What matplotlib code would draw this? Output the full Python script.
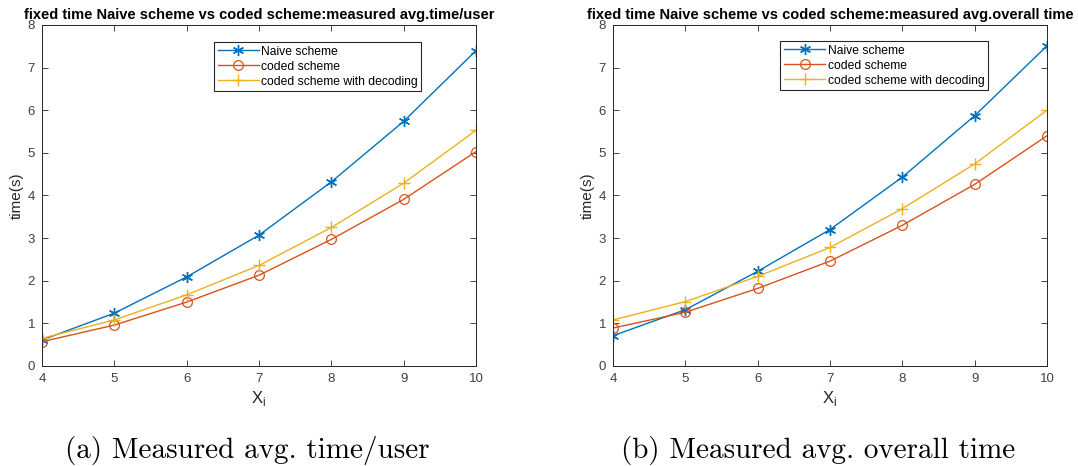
import matplotlib.pyplot as plt

# x values (X_i)
x_vals = [4, 5, 6, 7, 8, 9, 10]

# (a) measured avg. time/user
user_naive    = [0.61, 1.24, 2.09, 3.07, 4.32, 5.74, 7.40]
user_coded    = [0.57, 0.96, 1.50, 2.13, 2.97, 3.91, 5.03]
user_decoding = [0.65, 1.08, 1.67, 2.36, 3.25, 4.29, 5.53]

# (b) measured avg. overall time
overall_naive    = [0.71, 1.32, 2.22, 3.20, 4.43, 5.87, 7.51]
overall_coded    = [0.89, 1.26, 1.82, 2.46, 3.30, 4.26, 5.40]
overall_decoding = [1.08, 1.51, 2.10, 2.78, 3.69, 4.74, 6.00]

series_labels = ['Naive scheme', 'coded scheme', 'coded scheme with decoding']
titles = ['fixed time Naive scheme vs coded scheme:measured avg.time/user',
          'fixed time Naive scheme vs coded scheme:measured avg.overall time']
captions = ['(a) Measured avg. time/user', '(b) Measured avg. overall time']

# MATLAB default colour order
BLUE, RED, YELLOW = '#0072BD', '#D95319', '#EDB120'
AX_COLOR = '#262626'
TICK_COLOR = '#404040'
ASTERISK = (6, 2, 0)

plt.rcParams['font.family'] = ['Liberation Sans', 'DejaVu Sans']

fig = plt.figure(figsize=(10.78, 4.66), dpi=100)
ax_a = fig.add_axes([0.039, 0.2146, 0.4026, 0.7318])
ax_b = fig.add_axes([0.5686, 0.2146, 0.4026, 0.7318])

panels = [
    (ax_a, [user_naive, user_coded, user_decoding], (0.396, 0.950)),
    (ax_b, [overall_naive, overall_coded, overall_decoding], (0.386, 0.953)),
]

for i, (ax, data, leg_pos) in enumerate(panels):
    naive, coded, dec = data
    ax.plot(x_vals, naive, color=BLUE, lw=1.0, marker=ASTERISK, ms=8,
            mew=1.0, label=series_labels[0])
    ax.plot(x_vals, coded, color=RED, lw=1.0, marker='o', ms=7,
            mfc='none', mew=0.9, label=series_labels[1])
    ax.plot(x_vals, dec, color=YELLOW, lw=1.0, marker='+', ms=9,
            mew=1.0, label=series_labels[2])

    ax.set_xlim(4, 10)
    ax.set_ylim(0, 8)
    ax.set_xticks(range(4, 11))
    ax.set_yticks(range(0, 9))
    ax.tick_params(direction='in', top=True, right=True, length=4,
                   width=0.6, color=AX_COLOR, labelcolor=TICK_COLOR,
                   labelsize=9.5, pad=5)
    for sp in ax.spines.values():
        sp.set_color(AX_COLOR)
        sp.set_linewidth(0.7)

    ax.set_title(titles[i], fontsize=10.5, fontweight='bold', pad=4)
    ax.set_xlabel('X$_{\\mathregular{i}}$', fontsize=12, labelpad=3,
                  color=AX_COLOR)
    ax.set_ylabel('time(s)', fontsize=11, labelpad=3, color=AX_COLOR)

    leg = ax.legend(loc='upper left', bbox_to_anchor=leg_pos, fontsize=8.7,
                    frameon=True, fancybox=False, edgecolor=AX_COLOR,
                    borderpad=0.3, labelspacing=0.25, handlelength=3.4,
                    handletextpad=0.2, borderaxespad=0, framealpha=1)
    leg.get_frame().set_linewidth(0.8)

    x_center = ax.get_position().x0 + ax.get_position().width / 2
    fig.text(x_center - 0.011, 0.034, captions[i], ha='center', va='center',
             fontsize=21, family=['cmr10', 'DejaVu Serif'])

fig.savefig('out.png', dpi=100)
